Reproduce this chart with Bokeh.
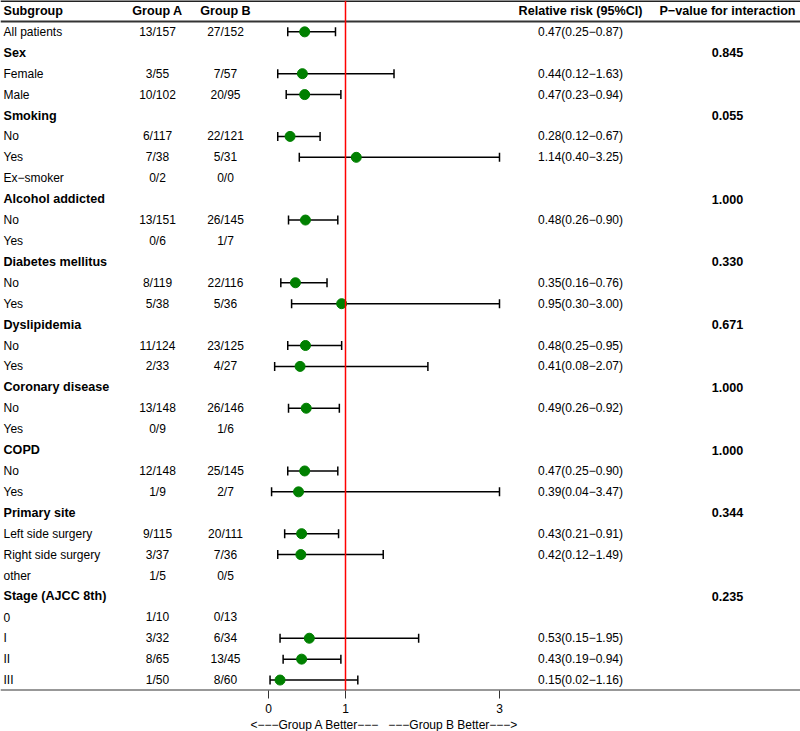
from bokeh.plotting import figure
from bokeh.models import Range1d, LinearAxis, FixedTicker, ColumnDataSource, Span, Title
from bokeh.core.properties import value
from bokeh.embed import file_html
from bokeh.resources import INLINE

# ---------------- data ----------------
subgroup = ["All patients", "Sex", "Female", "Male", "Smoking", "No", "Yes", "Ex\u2212smoker",
            "Alcohol addicted", "No", "Yes", "Diabetes mellitus", "No", "Yes", "Dyslipidemia",
            "No", "Yes", "Coronary disease", "No", "Yes", "COPD", "No", "Yes", "Primary site",
            "Left side surgery", "Right side surgery", "other", "Stage (AJCC 8th)", "0", "I", "II", "III"]
is_header = [False, True, False, False, True, False, False, False,
             True, False, False, True, False, False, True,
             False, False, True, False, False, True, False, False, True,
             False, False, False, True, False, False, False, False]
group_a = ["13/157", "", "3/55", "10/102", "", "6/117", "7/38", "0/2",
           "", "13/151", "0/6", "", "8/119", "5/38", "",
           "11/124", "2/33", "", "13/148", "0/9", "", "12/148", "1/9", "",
           "9/115", "3/37", "1/5", "", "1/10", "3/32", "8/65", "1/50"]
group_b = ["27/152", "", "7/57", "20/95", "", "22/121", "5/31", "0/0",
           "", "26/145", "1/7", "", "22/116", "5/36", "",
           "23/125", "4/27", "", "26/146", "1/6", "", "25/145", "2/7", "",
           "20/111", "7/36", "0/5", "", "0/13", "6/34", "13/45", "8/60"]
rr = [0.47, None, 0.44, 0.47, None, 0.28, 1.14, None,
      None, 0.48, None, None, 0.35, 0.95, None,
      0.48, 0.41, None, 0.49, None, None, 0.47, 0.39, None,
      0.43, 0.42, None, None, None, 0.53, 0.43, 0.15]
rr_lo = [0.25, None, 0.12, 0.23, None, 0.12, 0.40, None,
         None, 0.26, None, None, 0.16, 0.30, None,
         0.25, 0.08, None, 0.26, None, None, 0.25, 0.04, None,
         0.21, 0.12, None, None, None, 0.15, 0.19, 0.02]
rr_hi = [0.87, None, 1.63, 0.94, None, 0.67, 3.25, None,
         None, 0.90, None, None, 0.76, 3.00, None,
         0.95, 2.07, None, 0.92, None, None, 0.90, 3.47, None,
         0.91, 1.49, None, None, None, 1.95, 0.94, 1.16]
p_interaction = [None, 0.845, None, None, 0.055, None, None, None,
                 1.000, None, None, 0.330, None, None, 0.671,
                 None, None, 1.000, None, None, 1.000, None, None, 0.344,
                 None, None, None, 0.235, None, None, None, None]
x_ticks = [0, 1, 3]
x_limit = (0, 3)
headers = ["Subgroup", "Group A", "Group B", "Relative risk (95%CI)", "P\u2212value for interaction"]

# ---------------- layout constants ----------------
W, H = 800, 731
FONT = "Liberation Sans"
REG = "12px"
BOLD = "12.6px"
x_sub, x_a, x_b, x_rr, x_p = 3, 157, 225, 580, 727
n = len(subgroup)
rows = list(range(1, n + 1))

p = figure(width=W, height=H, output_backend="svg", toolbar_location=None,
           x_axis_type=None, y_axis_type=None,
           x_range=Range1d(0, W), y_range=Range1d(n + 0.5, -0.5),
           min_border_left=0, min_border_right=0, min_border_top=0, min_border_bottom=0)
p.extra_x_ranges = {"rr": Range1d(-268 / 77, (W - 268) / 77)}
p.outline_line_color = None
p.xgrid.visible = False
p.ygrid.visible = False
p.background_fill_color = "white"
p.border_fill_color = "white"

# table lines
p.add_layout(Span(location=-0.5, dimension="width", line_color="#222222", line_width=3))
p.add_layout(Span(location=0.5, dimension="width", line_color="#333333", line_width=2))
p.add_layout(Span(location=n + 0.5, dimension="width", line_color="#333333", line_width=2))

# header texts
hdr_x = [x_sub, x_a, x_b, x_rr, x_p]
hdr_align = ["left", "center", "center", "center", "center"]
p.text(x=hdr_x, y=[0] * 5, text=headers, text_align=hdr_align, text_baseline="middle",
       text_font=value(FONT), text_font_size=BOLD, text_font_style="bold", text_color="black")

# subgroup labels
bold_idx = [i for i in range(n) if is_header[i]]
reg_idx = [i for i in range(n) if not is_header[i]]
p.text(x=[x_sub] * len(bold_idx), y=[rows[i] for i in bold_idx], text=[subgroup[i] for i in bold_idx],
       text_align="left", text_baseline="middle", text_font=value(FONT), text_font_size=BOLD,
       text_font_style="bold", text_color="black")
p.text(x=[x_sub] * len(reg_idx), y=[rows[i] for i in reg_idx], text=[subgroup[i] for i in reg_idx],
       text_align="left", text_baseline="middle", text_font=value(FONT), text_font_size=REG,
       text_color="black")

# counts
p.text(x=[x_a] * n, y=rows, text=group_a, text_align="center", text_baseline="middle",
       text_font=value(FONT), text_font_size=REG, text_color="black")
p.text(x=[x_b] * n, y=rows, text=group_b, text_align="center", text_baseline="middle",
       text_font=value(FONT), text_font_size=REG, text_color="black")

# RR text
rr_rows, rr_txt = [], []
for i in range(n):
    if rr[i] is not None:
        rr_rows.append(rows[i])
        rr_txt.append(f"{rr[i]:.2f}({rr_lo[i]:.2f}\u2212{rr_hi[i]:.2f})")
p.text(x=[x_rr] * len(rr_rows), y=rr_rows, text=rr_txt, text_align="center", text_baseline="middle",
       text_font=value(FONT), text_font_size=REG, text_color="black")

# p-values
pv_rows, pv_txt = [], []
for i in range(n):
    if p_interaction[i] is not None:
        pv_rows.append(rows[i])
        pv_txt.append(f"{p_interaction[i]:.3f}")
p.text(x=[x_p] * len(pv_rows), y=pv_rows, text=pv_txt, text_align="center", text_baseline="middle",
       text_font=value(FONT), text_font_size=BOLD, text_font_style="bold", text_color="black")

# forest marks
est, lo, hi, yy = [], [], [], []
for i in range(n):
    if rr[i] is not None:
        est.append(rr[i])
        lo.append(max(rr_lo[i], x_limit[0]))
        hi.append(min(rr_hi[i], x_limit[1]))
        yy.append(rows[i])
src = ColumnDataSource(dict(est=est, lo=lo, hi=hi, y=yy))

p.add_layout(Span(location=1, dimension="height", line_color="red", line_width=1.5, x_range_name="rr"))
p.segment(x0="lo", x1="hi", y0="y", y1="y", source=src, x_range_name="rr",
          line_color="black", line_width=1.5)
p.scatter(x="lo", y="y", source=src, x_range_name="rr", marker="dash", angle=1.5708,
          size=9, line_color="black", line_width=1.5)
p.scatter(x="hi", y="y", source=src, x_range_name="rr", marker="dash", angle=1.5708,
          size=9, line_color="black", line_width=1.5)
p.scatter(x="est", y="y", source=src, x_range_name="rr", marker="circle", size=10,
          fill_color="#008000", line_color="#008000")

# x axis (only ticks + labels)
ax = LinearAxis(x_range_name="rr", ticker=FixedTicker(ticks=x_ticks))
ax.axis_line_color = None
ax.major_tick_line_color = "#333333"
ax.major_tick_in = 0
ax.major_tick_out = 8
ax.minor_tick_line_color = None
ax.major_label_standoff = 5
ax.major_label_text_font = FONT
ax.major_label_text_font_size = REG
ax.major_label_text_color = "black"
p.add_layout(ax, "below")

nb = "\u00a0"
better = f"<\u2212\u2212\u2212Group A Better\u2212\u2212\u2212{nb*3}\u2212\u2212\u2212Group B Better\u2212\u2212\u2212>"
p.add_layout(Title(text=better, align="left", offset=250, standoff=0,
                   text_font=FONT, text_font_size=REG, text_font_style="normal",
                   text_color="black"), "below")

open("out.html", "w").write(file_html(p, INLINE))
